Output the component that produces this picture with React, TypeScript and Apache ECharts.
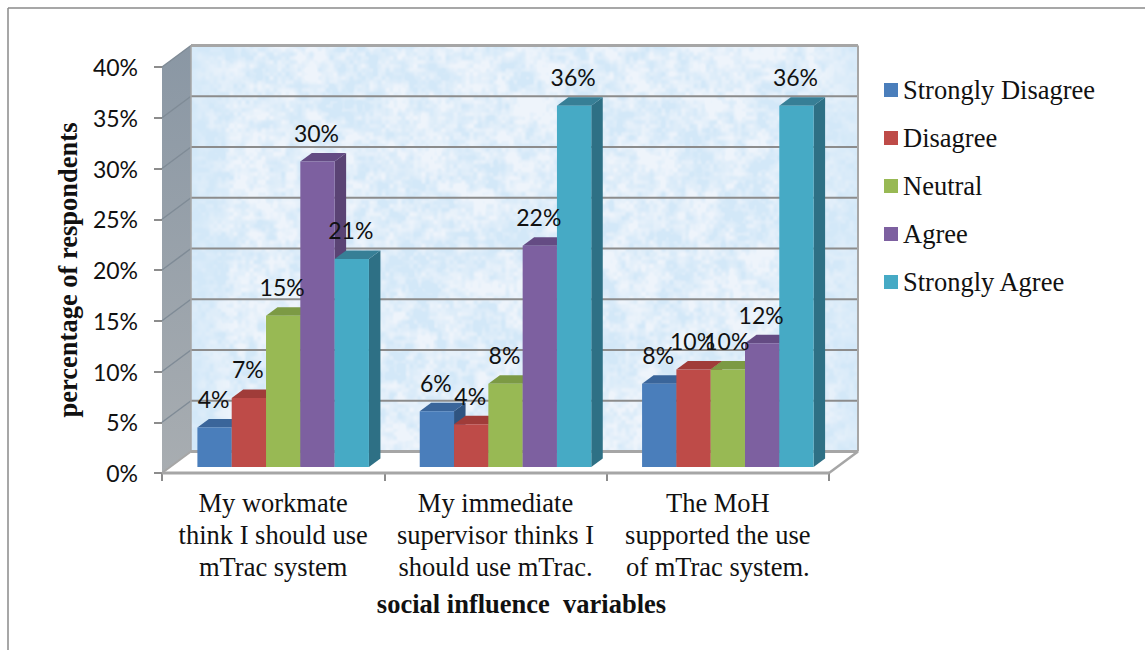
import React, { useEffect, useRef } from "react";
import * as echarts from "echarts";

const categories = [
  "My workmate\nthink I should use\nmTrac system",
  "My immediate\nsupervisor thinks I\nshould use mTrac.",
  "The MoH\nsupported the use\nof mTrac system.",
];
const stronglyDisagree = [3.9, 5.5, 8.2];
const disagree = [6.8, 4.2, 9.6];
const neutral = [14.9, 8.2, 9.6];
const agree = [30.1, 21.8, 12.2];
const stronglyAgree = [20.5, 35.6, 35.6];
const labelsSD = ["4%", "6%", "8%"];
const labelsD = ["7%", "4%", "10%"];
const labelsN = ["15%", "8%", "10%"];
const labelsA = ["30%", "22%", "12%"];
const labelsSA = ["21%", "36%", "36%"];
const seriesNames = ["Strongly Disagree", "Disagree", "Neutral", "Agree", "Strongly Agree"];
const seriesValues = [stronglyDisagree, disagree, neutral, agree, stronglyAgree];
const seriesLabels = [labelsSD, labelsD, labelsN, labelsA, labelsSA];
const frontColors = ["#4a7ebb", "#be4b48", "#98b954", "#7d60a0", "#46aac5"];
const topColors = ["#3a659a", "#a03c39", "#7c9a44", "#644b83", "#377f96"];
const sideColors = ["#2f5480", "#863230", "#678038", "#5a4374", "#2e7085"];
const yTicks = [0, 5, 10, 15, 20, 25, 30, 35, 40];

const DX = 29;
const DY = -21.5;
const BAR_RATIO = 0.1543;
const BAR_SHIFT_X = 10;
const BAR_SHIFT_Y = -6;
const SIDE_X = 11.5;
const SIDE_Y = -8.5;

function makeTexture(): string {
  const w = 667;
  const h = 406;
  const cv = document.createElement("canvas");
  cv.width = w;
  cv.height = h;
  const ctx = cv.getContext("2d")!;
  const img = ctx.createImageData(w, h);
  let seed = 12345;
  const next = () => {
    seed = (seed * 1664525 + 1013904223) >>> 0;
    return seed / 4294967296;
  };
  const layer = (step: number) => {
    const gw = Math.ceil(w / step) + 2;
    const gh = Math.ceil(h / step) + 2;
    const cells: number[] = [];
    for (let i = 0; i < gw * gh; i++) cells.push(next());
    const smooth = (t: number) => t * t * (3 - 2 * t);
    return (x: number, y: number) => {
      const fx = x / step;
      const fy = y / step;
      const ix = Math.floor(fx);
      const iy = Math.floor(fy);
      const tx = smooth(fx - ix);
      const ty = smooth(fy - iy);
      const a = cells[iy * gw + ix];
      const b = cells[iy * gw + ix + 1];
      const c = cells[(iy + 1) * gw + ix];
      const d = cells[(iy + 1) * gw + ix + 1];
      return (a + (b - a) * tx) * (1 - ty) + (c + (d - c) * tx) * ty;
    };
  };
  const l1 = layer(30);
  const l2 = layer(10);
  const l3 = layer(4);
  for (let y = 0; y < h; y++) {
    for (let x = 0; x < w; x++) {
      const v = l1(x, y) * 0.3 + l2(x, y) * 0.4 + l3(x, y) * 0.3;
      const edge = Math.max(0, 1 - Math.min(x, w - x) / 45) * 0.7;
      const t = Math.min(1, Math.max(0, (v - 0.3) / 0.4)) * (1 - edge);
      const i = (y * w + x) * 4;
      img.data[i] = 211 + (238 - 211) * t;
      img.data[i + 1] = 232 + (244 - 232) * t;
      img.data[i + 2] = 248 + (251 - 248) * t;
      img.data[i + 3] = 255;
    }
  }
  ctx.putImageData(img, 0, 0);
  return cv.toDataURL("image/png");
}

export default function App() {
  const ref = useRef<HTMLDivElement>(null);
  useEffect(() => {
    const chart = echarts.init(ref.current!, undefined, { renderer: "svg" });
    const texture = makeTexture();

    const wallsSeries = {
      type: "custom",
      name: "walls",
      silent: true,
      z: 1,
      clip: false,
      data: [[0, 0]],
      renderItem: (_p: any, api: any) => {
        const xl = api.coord([0, 0])[0] - api.size([1, 0])[0] / 2;
        const xr = api.coord([2, 0])[0] + api.size([1, 0])[0] / 2;
        const yb = api.coord([0, 0])[1];
        const yt = api.coord([0, 40])[1];
        const children: any[] = [
          {
            type: "image",
            style: { image: texture, x: xl + DX, y: yt + DY, width: xr - xl, height: yb - yt },
          },
          {
            type: "polygon",
            shape: { points: [[xl, yt], [xl + DX, yt + DY], [xl + DX, yb + DY], [xl, yb]] },
            style: {
              fill: {
                type: "linear", x: 0, y: 0, x2: 0, y2: 1,
                colorStops: [
                  { offset: 0, color: "#8a97a4" },
                  { offset: 1, color: "#a8adb1" },
                ],
              },
            },
          },
        ];
        yTicks.forEach((t) => {
          const y = api.coord([0, t])[1];
          if (t > 0 && t < 40) {
            children.push({
              type: "line",
              shape: { x1: xl + DX, y1: y + DY, x2: xr + DX, y2: y + DY },
              style: { stroke: "#8c8c8c", lineWidth: 2 },
            });
          }
          children.push({
            type: "line",
            shape: { x1: xl, y1: y, x2: xl + DX, y2: y + DY },
            style: { stroke: t === 0 ? "#a6a6a6" : "#7f8b96", lineWidth: t === 0 ? 2 : 1.5 },
          });
        });
        const edges = [
          [xl + DX, yt + DY, xr + DX, yt + DY, 3],
          [xl + DX, yb + DY, xr + DX, yb + DY, 3],
          [xr + DX, yt + DY, xr + DX, yb + DY, 2],
          [xl, yb, xr, yb, 3],
          [xr, yb, xr + DX, yb + DY, 2.5],
          [xl + DX, yt + DY, xl + DX, yb + DY, 1.5],
        ];
        edges.forEach((e) => {
          children.push({
            type: "line",
            shape: { x1: e[0], y1: e[1], x2: e[2], y2: e[3] },
            style: { stroke: "#a6a6a6", lineWidth: e[4] },
          });
        });
        return { type: "group", children };
      },
    };

    const barSeries = seriesNames.map((name, s) => ({
      type: "custom",
      name,
      z: 2,
      clip: false,
      itemStyle: { color: frontColors[s] },
      data: seriesValues[s].map((v, c) => [c, v]),
      encode: { x: 0, y: 1 },
      renderItem: (_p: any, api: any) => {
        const c = api.value(0);
        const v = api.value(1);
        const w = api.size([1, 0])[0] * BAR_RATIO;
        const center = api.coord([c, 0])[0] + BAR_SHIFT_X;
        const x0 = center + (s - 2.5) * w;
        const x1 = x0 + w;
        const y0 = api.coord([c, 0])[1] + BAR_SHIFT_Y;
        const yTop = api.coord([c, v])[1] + BAR_SHIFT_Y;
        return {
          type: "group",
          children: [
            {
              type: "polygon",
              shape: { points: [[x1, y0], [x1 + SIDE_X, y0 + SIDE_Y], [x1 + SIDE_X, yTop + SIDE_Y], [x1, yTop]] },
              style: { fill: sideColors[s] },
            },
            {
              type: "polygon",
              shape: { points: [[x0, yTop], [x0 + SIDE_X, yTop + SIDE_Y], [x1 + SIDE_X, yTop + SIDE_Y], [x1, yTop]] },
              style: { fill: topColors[s] },
            },
            {
              type: "rect",
              shape: { x: x0, y: yTop, width: w, height: y0 - yTop },
              style: { fill: frontColors[s] },
            },
          ],
        };
      },
    }));

    const labelSeries = seriesNames.map((name, s) => ({
      type: "custom",
      name: name + " labels",
      z: 5,
      clip: false,
      silent: true,
      data: seriesValues[s].map((v, c) => [c, v]),
      encode: { x: 0, y: 1 },
      renderItem: (_p: any, api: any) => {
        const c = api.value(0);
        const v = api.value(1);
        const w = api.size([1, 0])[0] * BAR_RATIO;
        const x = api.coord([c, 0])[0] + BAR_SHIFT_X + (s - 2) * w - 1;
        const y = api.coord([c, v])[1] + BAR_SHIFT_Y - 28.5;
        return {
          type: "text",
          style: {
            text: seriesLabels[s][c],
            x,
            y,
            align: "center",
            verticalAlign: "middle",
            fill: "#111111",
            font: "23px Lato",
          },
        };
      },
    }));

    chart.setOption({
      animation: false,
      backgroundColor: "#ffffff",
      grid: { left: 162, top: 67, width: 667, height: 406 },
      legend: {
        orient: "vertical",
        left: 879,
        top: 71,
        itemWidth: 14,
        itemHeight: 14,
        itemGap: 20,
        icon: "rect",
        data: seriesNames,
        selectedMode: false,
        textStyle: {
          fontFamily: "Liberation Serif",
          fontSize: 26.5,
          color: "#111111",
          lineHeight: 28,
        },
      },
      xAxis: {
        type: "category",
        data: categories,
        boundaryGap: true,
        name: "social influence  variables",
        nameLocation: "middle",
        nameGap: 117,
        nameTextStyle: {
          fontFamily: "Liberation Serif",
          fontWeight: "bold",
          fontSize: 26.5,
          color: "#111111",
          padding: [0, 0, 0, 52],
        },
        axisLine: { show: false },
        axisTick: { show: true, length: 8, alignWithLabel: false, lineStyle: { color: "#8c8c8c", width: 2 } },
        axisLabel: {
          margin: 14,
          interval: 0,
          fontFamily: "Liberation Serif",
          fontSize: 26.5,
          lineHeight: 32,
          color: "#111111",
        },
      },
      yAxis: {
        type: "value",
        min: 0,
        max: 40,
        interval: 5,
        name: "percentage of respondents",
        nameLocation: "middle",
        nameGap: 80,
        nameTextStyle: {
          fontFamily: "Liberation Serif",
          fontWeight: "bold",
          fontSize: 26.5,
          color: "#111111",
        },
        splitLine: { show: false },
        axisLine: { show: false },
        axisTick: { show: true, length: 8, lineStyle: { color: "#8c8c8c", width: 2 } },
        axisLabel: {
          margin: 24,
          formatter: "{value}%",
          fontFamily: "Lato",
          fontSize: 23,
          color: "#111111",
        },
      },
      graphic: [
        { type: "line", shape: { x1: 8, y1: 8, x2: 1145, y2: 8 }, style: { stroke: "#8a8a8a", lineWidth: 1.5 } },
        { type: "line", shape: { x1: 8, y1: 8, x2: 8, y2: 650 }, style: { stroke: "#8a8a8a", lineWidth: 1.5 } },
      ],
      series: [wallsSeries, ...barSeries, ...labelSeries],
    });
    return () => chart.dispose();
  }, []);
  return <div ref={ref} style={{ position: "absolute", left: 0, top: 0, width: 1145, height: 650 }} />;
}
